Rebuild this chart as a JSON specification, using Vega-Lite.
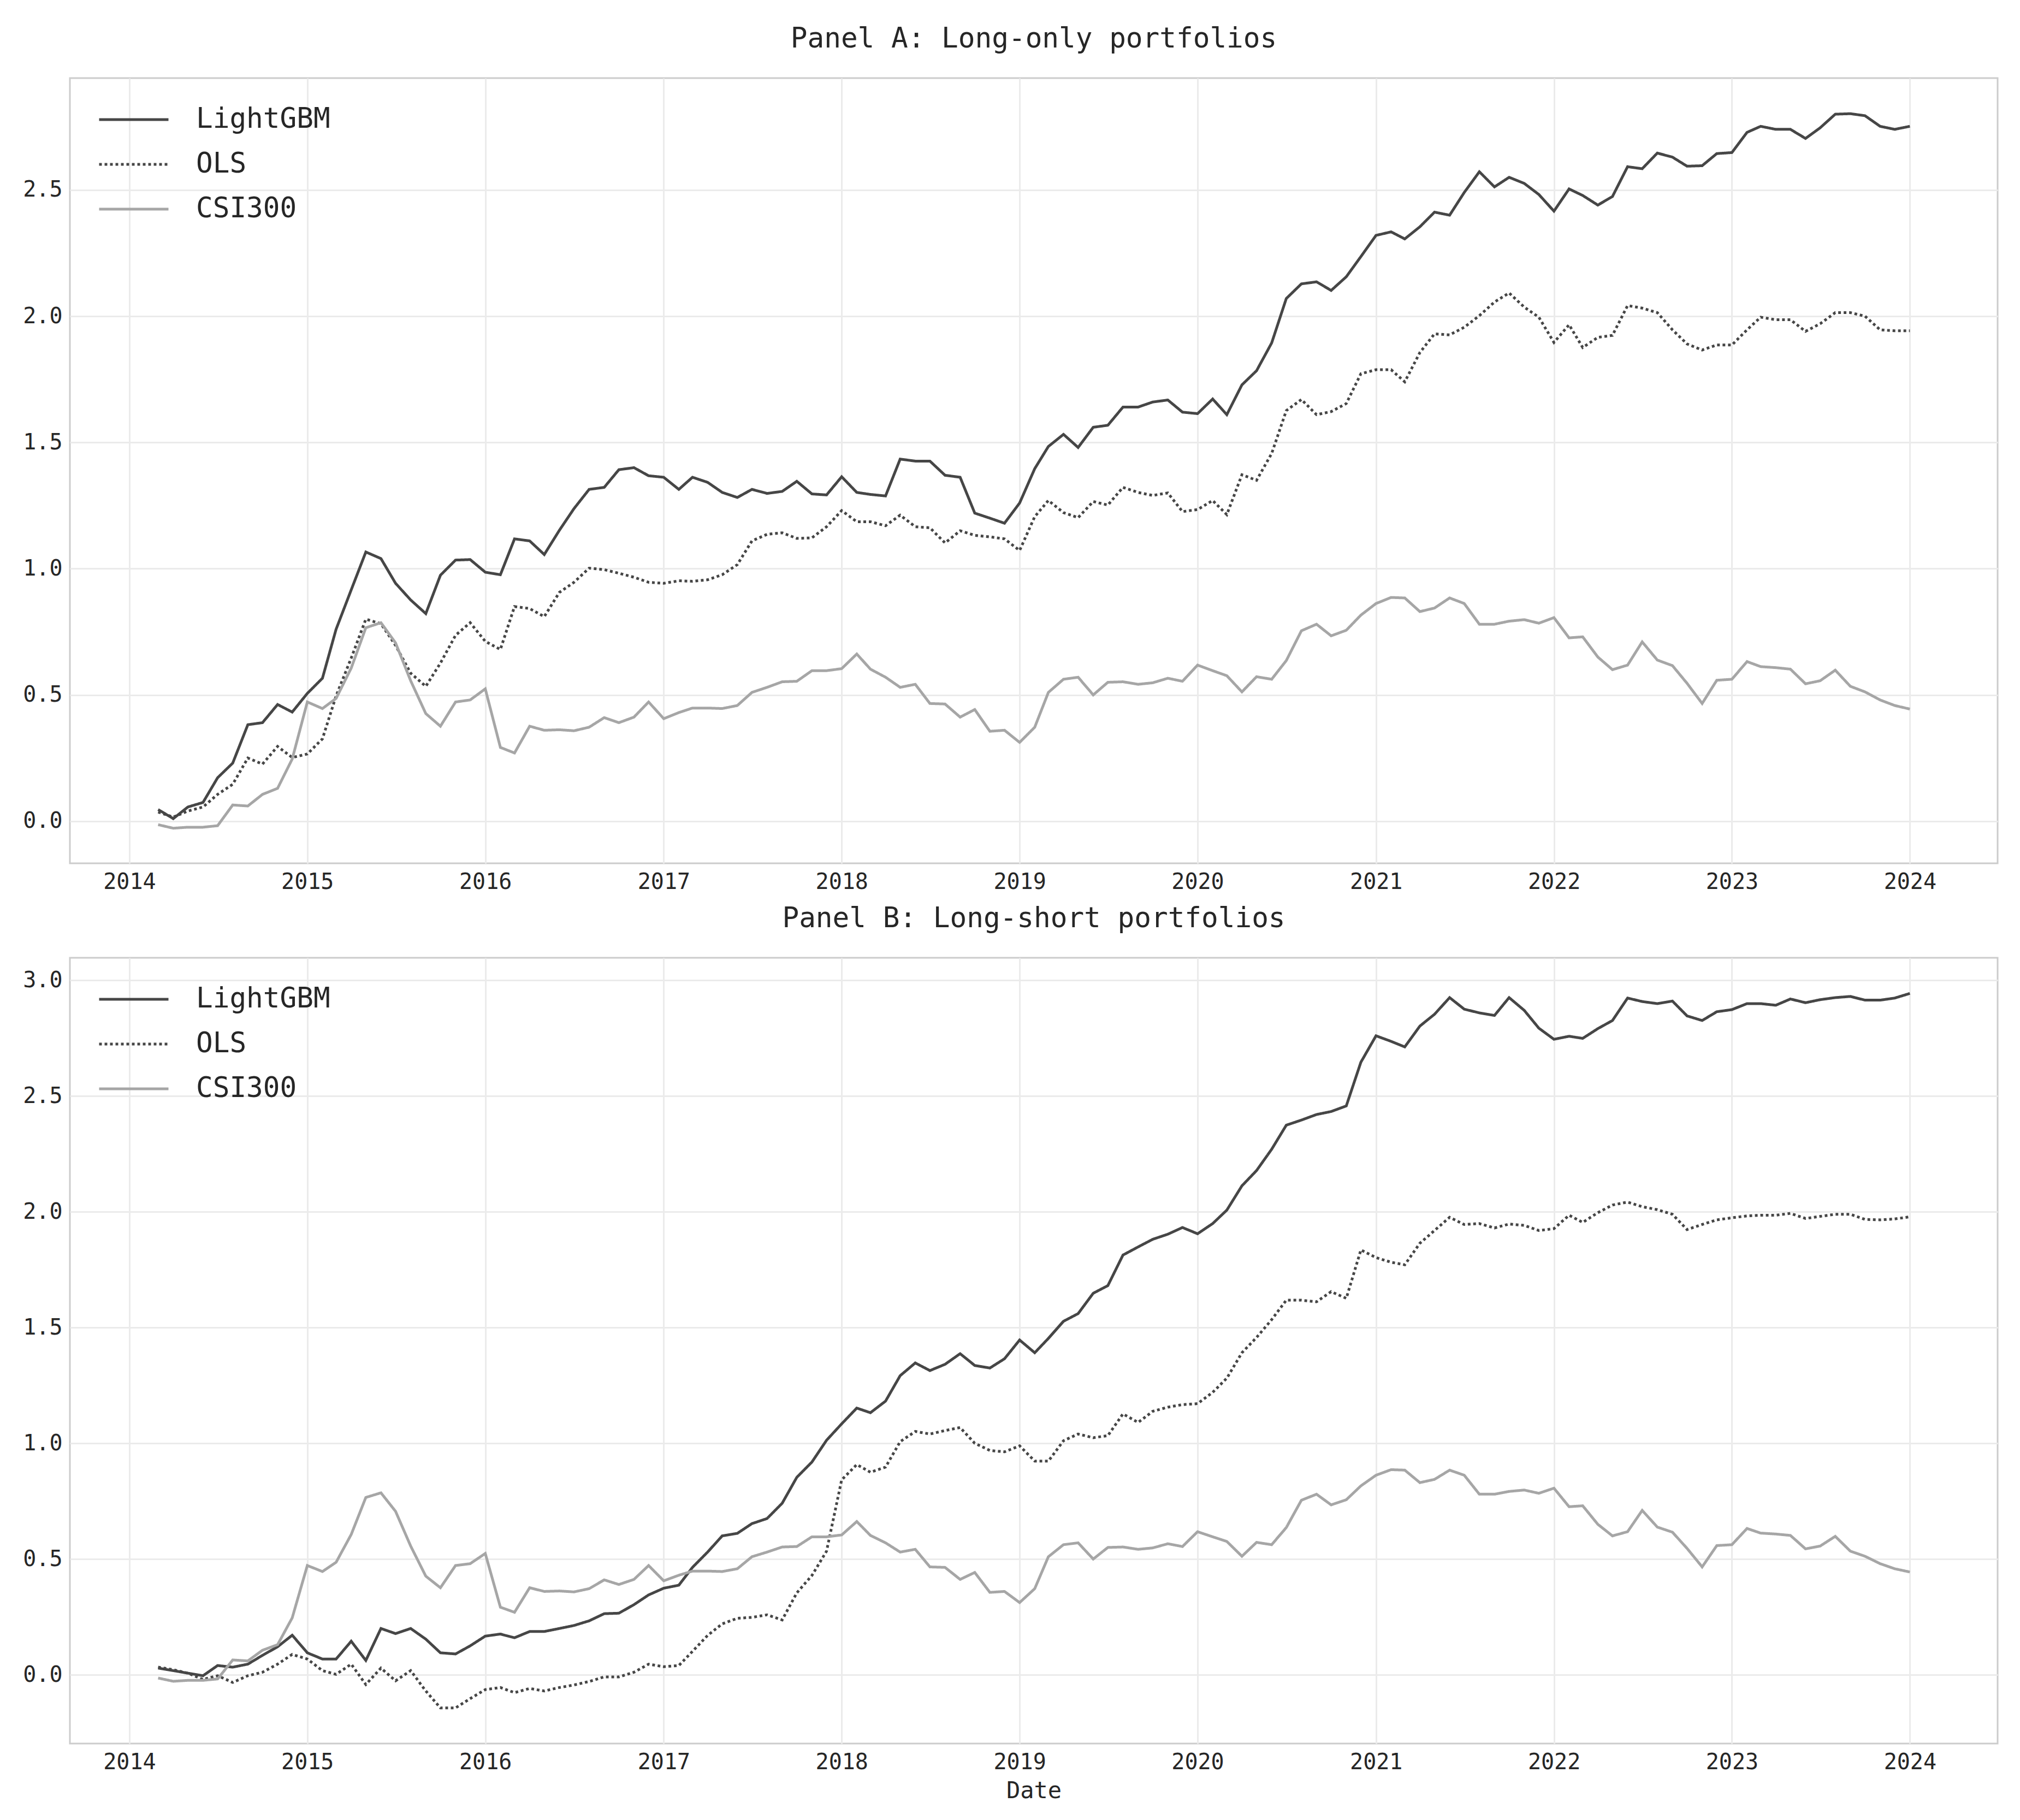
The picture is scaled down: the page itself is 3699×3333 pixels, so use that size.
{
  "$schema": "https://vega.github.io/schema/vega-lite/v6.json",
  "background": "white",
  "padding": {"left": 40, "top": 44, "right": 43, "bottom": 20},
  "spacing": 18,
  "config": {
    "font": "DejaVu Sans Mono",
    "view": {"stroke": "#cccccc", "strokeWidth": 3},
    "axis": {
      "grid": true, "gridColor": "#ebebeb", "gridWidth": 3,
      "domain": false, "ticks": false,
      "labelFont": "DejaVu Sans Mono", "labelFontSize": 40, "labelColor": "#262626", "labelPadding": 14,
      "titleFont": "DejaVu Sans Mono", "titleFontSize": 42, "titleColor": "#262626", "titleFontWeight": "normal", "titlePadding": 12
    },
    "title": {"font": "DejaVu Sans Mono", "fontSize": 51, "fontWeight": "normal", "color": "#262626", "offset": 45, "anchor": "middle"},
    "legend": {
      "orient": "top-left", "offset": 51, "padding": 0, "title": null,
      "symbolType": "stroke", "symbolSize": 16129, "symbolStrokeWidth": 5,
      "labelFont": "DejaVu Sans Mono", "labelFontSize": 51, "labelColor": "#262626", "labelOffset": 48, "labelLimit": 600,
      "clipHeight": 50, "rowPadding": 31
    }
  },
  "datasets": {
    "longOnly": [
      {"date": "2014-03-01", "LightGBM": 0.046, "OLS": 0.036, "CSI300": -0.014},
      {"date": "2014-04-01", "LightGBM": 0.01, "OLS": 0.016, "CSI300": -0.028},
      {"date": "2014-05-01", "LightGBM": 0.056, "OLS": 0.04, "CSI300": -0.024},
      {"date": "2014-06-01", "LightGBM": 0.074, "OLS": 0.056, "CSI300": -0.024},
      {"date": "2014-07-01", "LightGBM": 0.172, "OLS": 0.106, "CSI300": -0.018},
      {"date": "2014-08-01", "LightGBM": 0.23, "OLS": 0.146, "CSI300": 0.064},
      {"date": "2014-09-01", "LightGBM": 0.382, "OLS": 0.25, "CSI300": 0.06},
      {"date": "2014-10-01", "LightGBM": 0.39, "OLS": 0.226, "CSI300": 0.106},
      {"date": "2014-11-01", "LightGBM": 0.462, "OLS": 0.296, "CSI300": 0.13},
      {"date": "2014-12-01", "LightGBM": 0.432, "OLS": 0.252, "CSI300": 0.246},
      {"date": "2015-01-01", "LightGBM": 0.506, "OLS": 0.266, "CSI300": 0.472},
      {"date": "2015-02-01", "LightGBM": 0.566, "OLS": 0.326, "CSI300": 0.446},
      {"date": "2015-03-01", "LightGBM": 0.76, "OLS": 0.496, "CSI300": 0.486},
      {"date": "2015-04-01", "LightGBM": 0.916, "OLS": 0.646, "CSI300": 0.606},
      {"date": "2015-05-01", "LightGBM": 1.066, "OLS": 0.8, "CSI300": 0.766},
      {"date": "2015-06-01", "LightGBM": 1.04, "OLS": 0.782, "CSI300": 0.786},
      {"date": "2015-07-01", "LightGBM": 0.942, "OLS": 0.696, "CSI300": 0.706},
      {"date": "2015-08-01", "LightGBM": 0.876, "OLS": 0.586, "CSI300": 0.556},
      {"date": "2015-09-01", "LightGBM": 0.822, "OLS": 0.534, "CSI300": 0.426},
      {"date": "2015-10-01", "LightGBM": 0.974, "OLS": 0.626, "CSI300": 0.376},
      {"date": "2015-11-01", "LightGBM": 1.034, "OLS": 0.736, "CSI300": 0.472},
      {"date": "2015-12-01", "LightGBM": 1.036, "OLS": 0.786, "CSI300": 0.48},
      {"date": "2016-01-01", "LightGBM": 0.986, "OLS": 0.712, "CSI300": 0.524},
      {"date": "2016-02-01", "LightGBM": 0.976, "OLS": 0.68, "CSI300": 0.292},
      {"date": "2016-03-01", "LightGBM": 1.118, "OLS": 0.85, "CSI300": 0.27},
      {"date": "2016-04-01", "LightGBM": 1.11, "OLS": 0.842, "CSI300": 0.376},
      {"date": "2016-05-01", "LightGBM": 1.056, "OLS": 0.81, "CSI300": 0.36},
      {"date": "2016-06-01", "LightGBM": 1.152, "OLS": 0.906, "CSI300": 0.362},
      {"date": "2016-07-01", "LightGBM": 1.238, "OLS": 0.946, "CSI300": 0.358},
      {"date": "2016-08-01", "LightGBM": 1.314, "OLS": 1.002, "CSI300": 0.372},
      {"date": "2016-09-01", "LightGBM": 1.322, "OLS": 0.996, "CSI300": 0.41},
      {"date": "2016-10-01", "LightGBM": 1.392, "OLS": 0.982, "CSI300": 0.39},
      {"date": "2016-11-01", "LightGBM": 1.4, "OLS": 0.966, "CSI300": 0.412},
      {"date": "2016-12-01", "LightGBM": 1.368, "OLS": 0.946, "CSI300": 0.472},
      {"date": "2017-01-01", "LightGBM": 1.362, "OLS": 0.942, "CSI300": 0.406},
      {"date": "2017-02-01", "LightGBM": 1.314, "OLS": 0.952, "CSI300": 0.43},
      {"date": "2017-03-01", "LightGBM": 1.362, "OLS": 0.95, "CSI300": 0.448},
      {"date": "2017-04-01", "LightGBM": 1.342, "OLS": 0.956, "CSI300": 0.448},
      {"date": "2017-05-01", "LightGBM": 1.302, "OLS": 0.976, "CSI300": 0.446},
      {"date": "2017-06-01", "LightGBM": 1.282, "OLS": 1.016, "CSI300": 0.458},
      {"date": "2017-07-01", "LightGBM": 1.314, "OLS": 1.11, "CSI300": 0.51},
      {"date": "2017-08-01", "LightGBM": 1.298, "OLS": 1.136, "CSI300": 0.53},
      {"date": "2017-09-01", "LightGBM": 1.306, "OLS": 1.142, "CSI300": 0.552},
      {"date": "2017-10-01", "LightGBM": 1.346, "OLS": 1.12, "CSI300": 0.554},
      {"date": "2017-11-01", "LightGBM": 1.296, "OLS": 1.122, "CSI300": 0.596},
      {"date": "2017-12-01", "LightGBM": 1.292, "OLS": 1.166, "CSI300": 0.596},
      {"date": "2018-01-01", "LightGBM": 1.364, "OLS": 1.23, "CSI300": 0.604},
      {"date": "2018-02-01", "LightGBM": 1.302, "OLS": 1.186, "CSI300": 0.662},
      {"date": "2018-03-01", "LightGBM": 1.294, "OLS": 1.186, "CSI300": 0.602},
      {"date": "2018-04-01", "LightGBM": 1.288, "OLS": 1.17, "CSI300": 0.57},
      {"date": "2018-05-01", "LightGBM": 1.434, "OLS": 1.212, "CSI300": 0.53},
      {"date": "2018-06-01", "LightGBM": 1.426, "OLS": 1.166, "CSI300": 0.542},
      {"date": "2018-07-01", "LightGBM": 1.426, "OLS": 1.162, "CSI300": 0.466},
      {"date": "2018-08-01", "LightGBM": 1.37, "OLS": 1.102, "CSI300": 0.464},
      {"date": "2018-09-01", "LightGBM": 1.362, "OLS": 1.15, "CSI300": 0.412},
      {"date": "2018-10-01", "LightGBM": 1.22, "OLS": 1.132, "CSI300": 0.442},
      {"date": "2018-11-01", "LightGBM": 1.2, "OLS": 1.126, "CSI300": 0.356},
      {"date": "2018-12-01", "LightGBM": 1.18, "OLS": 1.118, "CSI300": 0.36},
      {"date": "2019-01-01", "LightGBM": 1.26, "OLS": 1.072, "CSI300": 0.312},
      {"date": "2019-02-01", "LightGBM": 1.396, "OLS": 1.206, "CSI300": 0.372},
      {"date": "2019-03-01", "LightGBM": 1.484, "OLS": 1.27, "CSI300": 0.51},
      {"date": "2019-04-01", "LightGBM": 1.532, "OLS": 1.222, "CSI300": 0.562},
      {"date": "2019-05-01", "LightGBM": 1.48, "OLS": 1.202, "CSI300": 0.57},
      {"date": "2019-06-01", "LightGBM": 1.56, "OLS": 1.266, "CSI300": 0.5},
      {"date": "2019-07-01", "LightGBM": 1.568, "OLS": 1.252, "CSI300": 0.55},
      {"date": "2019-08-01", "LightGBM": 1.64, "OLS": 1.322, "CSI300": 0.552},
      {"date": "2019-09-01", "LightGBM": 1.64, "OLS": 1.302, "CSI300": 0.542},
      {"date": "2019-10-01", "LightGBM": 1.66, "OLS": 1.29, "CSI300": 0.548},
      {"date": "2019-11-01", "LightGBM": 1.668, "OLS": 1.3, "CSI300": 0.566},
      {"date": "2019-12-01", "LightGBM": 1.62, "OLS": 1.226, "CSI300": 0.554},
      {"date": "2020-01-01", "LightGBM": 1.614, "OLS": 1.234, "CSI300": 0.618},
      {"date": "2020-02-01", "LightGBM": 1.672, "OLS": 1.27, "CSI300": 0.596},
      {"date": "2020-03-01", "LightGBM": 1.61, "OLS": 1.214, "CSI300": 0.576},
      {"date": "2020-04-01", "LightGBM": 1.728, "OLS": 1.372, "CSI300": 0.512},
      {"date": "2020-05-01", "LightGBM": 1.784, "OLS": 1.35, "CSI300": 0.572},
      {"date": "2020-06-01", "LightGBM": 1.894, "OLS": 1.456, "CSI300": 0.562},
      {"date": "2020-07-01", "LightGBM": 2.07, "OLS": 1.626, "CSI300": 0.636},
      {"date": "2020-08-01", "LightGBM": 2.128, "OLS": 1.67, "CSI300": 0.754},
      {"date": "2020-09-01", "LightGBM": 2.136, "OLS": 1.61, "CSI300": 0.78},
      {"date": "2020-10-01", "LightGBM": 2.102, "OLS": 1.622, "CSI300": 0.734},
      {"date": "2020-11-01", "LightGBM": 2.156, "OLS": 1.654, "CSI300": 0.756},
      {"date": "2020-12-01", "LightGBM": 2.236, "OLS": 1.772, "CSI300": 0.816},
      {"date": "2021-01-01", "LightGBM": 2.32, "OLS": 1.788, "CSI300": 0.862},
      {"date": "2021-02-01", "LightGBM": 2.334, "OLS": 1.788, "CSI300": 0.886},
      {"date": "2021-03-01", "LightGBM": 2.306, "OLS": 1.74, "CSI300": 0.884},
      {"date": "2021-04-01", "LightGBM": 2.354, "OLS": 1.856, "CSI300": 0.83},
      {"date": "2021-05-01", "LightGBM": 2.412, "OLS": 1.93, "CSI300": 0.844},
      {"date": "2021-06-01", "LightGBM": 2.4, "OLS": 1.926, "CSI300": 0.884},
      {"date": "2021-07-01", "LightGBM": 2.49, "OLS": 1.956, "CSI300": 0.862},
      {"date": "2021-08-01", "LightGBM": 2.572, "OLS": 2.002, "CSI300": 0.78},
      {"date": "2021-09-01", "LightGBM": 2.512, "OLS": 2.056, "CSI300": 0.78},
      {"date": "2021-10-01", "LightGBM": 2.55, "OLS": 2.092, "CSI300": 0.792},
      {"date": "2021-11-01", "LightGBM": 2.526, "OLS": 2.036, "CSI300": 0.798},
      {"date": "2021-12-01", "LightGBM": 2.482, "OLS": 1.996, "CSI300": 0.784},
      {"date": "2022-01-01", "LightGBM": 2.416, "OLS": 1.896, "CSI300": 0.806},
      {"date": "2022-02-01", "LightGBM": 2.504, "OLS": 1.966, "CSI300": 0.726},
      {"date": "2022-03-01", "LightGBM": 2.478, "OLS": 1.876, "CSI300": 0.73},
      {"date": "2022-04-01", "LightGBM": 2.44, "OLS": 1.916, "CSI300": 0.65},
      {"date": "2022-05-01", "LightGBM": 2.474, "OLS": 1.924, "CSI300": 0.6},
      {"date": "2022-06-01", "LightGBM": 2.592, "OLS": 2.042, "CSI300": 0.618},
      {"date": "2022-07-01", "LightGBM": 2.584, "OLS": 2.032, "CSI300": 0.71},
      {"date": "2022-08-01", "LightGBM": 2.646, "OLS": 2.014, "CSI300": 0.638},
      {"date": "2022-09-01", "LightGBM": 2.63, "OLS": 1.946, "CSI300": 0.616},
      {"date": "2022-10-01", "LightGBM": 2.594, "OLS": 1.89, "CSI300": 0.546},
      {"date": "2022-11-01", "LightGBM": 2.596, "OLS": 1.866, "CSI300": 0.466},
      {"date": "2022-12-01", "LightGBM": 2.644, "OLS": 1.886, "CSI300": 0.558},
      {"date": "2023-01-01", "LightGBM": 2.648, "OLS": 1.886, "CSI300": 0.562},
      {"date": "2023-02-01", "LightGBM": 2.728, "OLS": 1.946, "CSI300": 0.632},
      {"date": "2023-03-01", "LightGBM": 2.752, "OLS": 1.996, "CSI300": 0.612},
      {"date": "2023-04-01", "LightGBM": 2.74, "OLS": 1.986, "CSI300": 0.608},
      {"date": "2023-05-01", "LightGBM": 2.74, "OLS": 1.986, "CSI300": 0.602},
      {"date": "2023-06-01", "LightGBM": 2.704, "OLS": 1.94, "CSI300": 0.544},
      {"date": "2023-07-01", "LightGBM": 2.746, "OLS": 1.97, "CSI300": 0.556},
      {"date": "2023-08-01", "LightGBM": 2.8, "OLS": 2.014, "CSI300": 0.598},
      {"date": "2023-09-01", "LightGBM": 2.802, "OLS": 2.014, "CSI300": 0.534},
      {"date": "2023-10-01", "LightGBM": 2.794, "OLS": 2.0, "CSI300": 0.512},
      {"date": "2023-11-01", "LightGBM": 2.752, "OLS": 1.946, "CSI300": 0.48},
      {"date": "2023-12-01", "LightGBM": 2.74, "OLS": 1.942, "CSI300": 0.458},
      {"date": "2024-01-01", "LightGBM": 2.752, "OLS": 1.942, "CSI300": 0.444}
    ],
    "longShort": [
      {"date": "2014-03-01", "LightGBM": 0.029, "OLS": 0.033, "CSI300": -0.014},
      {"date": "2014-04-01", "LightGBM": 0.018, "OLS": 0.022, "CSI300": -0.028},
      {"date": "2014-05-01", "LightGBM": 0.007, "OLS": 0.007, "CSI300": -0.024},
      {"date": "2014-06-01", "LightGBM": -0.004, "OLS": -0.02, "CSI300": -0.024},
      {"date": "2014-07-01", "LightGBM": 0.04, "OLS": -0.004, "CSI300": -0.018},
      {"date": "2014-08-01", "LightGBM": 0.033, "OLS": -0.033, "CSI300": 0.064},
      {"date": "2014-09-01", "LightGBM": 0.046, "OLS": -0.004, "CSI300": 0.06},
      {"date": "2014-10-01", "LightGBM": 0.084, "OLS": 0.011, "CSI300": 0.106},
      {"date": "2014-11-01", "LightGBM": 0.121, "OLS": 0.046, "CSI300": 0.13},
      {"date": "2014-12-01", "LightGBM": 0.171, "OLS": 0.088, "CSI300": 0.246},
      {"date": "2015-01-01", "LightGBM": 0.095, "OLS": 0.068, "CSI300": 0.472},
      {"date": "2015-02-01", "LightGBM": 0.068, "OLS": 0.018, "CSI300": 0.446},
      {"date": "2015-03-01", "LightGBM": 0.068, "OLS": 0.002, "CSI300": 0.486},
      {"date": "2015-04-01", "LightGBM": 0.145, "OLS": 0.046, "CSI300": 0.606},
      {"date": "2015-05-01", "LightGBM": 0.062, "OLS": -0.042, "CSI300": 0.766},
      {"date": "2015-06-01", "LightGBM": 0.2, "OLS": 0.029, "CSI300": 0.786},
      {"date": "2015-07-01", "LightGBM": 0.178, "OLS": -0.026, "CSI300": 0.706},
      {"date": "2015-08-01", "LightGBM": 0.2, "OLS": 0.018, "CSI300": 0.556},
      {"date": "2015-09-01", "LightGBM": 0.154, "OLS": -0.07, "CSI300": 0.426},
      {"date": "2015-10-01", "LightGBM": 0.095, "OLS": -0.143, "CSI300": 0.376},
      {"date": "2015-11-01", "LightGBM": 0.09, "OLS": -0.143, "CSI300": 0.472},
      {"date": "2015-12-01", "LightGBM": 0.125, "OLS": -0.103, "CSI300": 0.48},
      {"date": "2016-01-01", "LightGBM": 0.167, "OLS": -0.064, "CSI300": 0.524},
      {"date": "2016-02-01", "LightGBM": 0.176, "OLS": -0.055, "CSI300": 0.292},
      {"date": "2016-03-01", "LightGBM": 0.16, "OLS": -0.077, "CSI300": 0.27},
      {"date": "2016-04-01", "LightGBM": 0.187, "OLS": -0.059, "CSI300": 0.376},
      {"date": "2016-05-01", "LightGBM": 0.187, "OLS": -0.07, "CSI300": 0.36},
      {"date": "2016-06-01", "LightGBM": 0.2, "OLS": -0.055, "CSI300": 0.362},
      {"date": "2016-07-01", "LightGBM": 0.213, "OLS": -0.044, "CSI300": 0.358},
      {"date": "2016-08-01", "LightGBM": 0.233, "OLS": -0.029, "CSI300": 0.372},
      {"date": "2016-09-01", "LightGBM": 0.264, "OLS": -0.009, "CSI300": 0.41},
      {"date": "2016-10-01", "LightGBM": 0.266, "OLS": -0.009, "CSI300": 0.39},
      {"date": "2016-11-01", "LightGBM": 0.303, "OLS": 0.011, "CSI300": 0.412},
      {"date": "2016-12-01", "LightGBM": 0.345, "OLS": 0.046, "CSI300": 0.472},
      {"date": "2017-01-01", "LightGBM": 0.374, "OLS": 0.035, "CSI300": 0.406},
      {"date": "2017-02-01", "LightGBM": 0.387, "OLS": 0.04, "CSI300": 0.43},
      {"date": "2017-03-01", "LightGBM": 0.464, "OLS": 0.101, "CSI300": 0.448},
      {"date": "2017-04-01", "LightGBM": 0.53, "OLS": 0.17, "CSI300": 0.448},
      {"date": "2017-05-01", "LightGBM": 0.6, "OLS": 0.22, "CSI300": 0.446},
      {"date": "2017-06-01", "LightGBM": 0.611, "OLS": 0.244, "CSI300": 0.458},
      {"date": "2017-07-01", "LightGBM": 0.653, "OLS": 0.248, "CSI300": 0.51},
      {"date": "2017-08-01", "LightGBM": 0.675, "OLS": 0.259, "CSI300": 0.53},
      {"date": "2017-09-01", "LightGBM": 0.741, "OLS": 0.237, "CSI300": 0.552},
      {"date": "2017-10-01", "LightGBM": 0.853, "OLS": 0.354, "CSI300": 0.554},
      {"date": "2017-11-01", "LightGBM": 0.919, "OLS": 0.429, "CSI300": 0.596},
      {"date": "2017-12-01", "LightGBM": 1.013, "OLS": 0.534, "CSI300": 0.596},
      {"date": "2018-01-01", "LightGBM": 1.084, "OLS": 0.842, "CSI300": 0.604},
      {"date": "2018-02-01", "LightGBM": 1.152, "OLS": 0.908, "CSI300": 0.662},
      {"date": "2018-03-01", "LightGBM": 1.132, "OLS": 0.875, "CSI300": 0.602},
      {"date": "2018-04-01", "LightGBM": 1.182, "OLS": 0.897, "CSI300": 0.57},
      {"date": "2018-05-01", "LightGBM": 1.292, "OLS": 1.007, "CSI300": 0.53},
      {"date": "2018-06-01", "LightGBM": 1.347, "OLS": 1.051, "CSI300": 0.542},
      {"date": "2018-07-01", "LightGBM": 1.314, "OLS": 1.04, "CSI300": 0.466},
      {"date": "2018-08-01", "LightGBM": 1.341, "OLS": 1.055, "CSI300": 0.464},
      {"date": "2018-09-01", "LightGBM": 1.387, "OLS": 1.068, "CSI300": 0.412},
      {"date": "2018-10-01", "LightGBM": 1.336, "OLS": 1.0, "CSI300": 0.442},
      {"date": "2018-11-01", "LightGBM": 1.325, "OLS": 0.969, "CSI300": 0.356},
      {"date": "2018-12-01", "LightGBM": 1.365, "OLS": 0.963, "CSI300": 0.36},
      {"date": "2019-01-01", "LightGBM": 1.446, "OLS": 0.989, "CSI300": 0.312},
      {"date": "2019-02-01", "LightGBM": 1.391, "OLS": 0.923, "CSI300": 0.372},
      {"date": "2019-03-01", "LightGBM": 1.453, "OLS": 0.923, "CSI300": 0.51},
      {"date": "2019-04-01", "LightGBM": 1.527, "OLS": 1.011, "CSI300": 0.562},
      {"date": "2019-05-01", "LightGBM": 1.56, "OLS": 1.04, "CSI300": 0.57},
      {"date": "2019-06-01", "LightGBM": 1.648, "OLS": 1.024, "CSI300": 0.5},
      {"date": "2019-07-01", "LightGBM": 1.681, "OLS": 1.033, "CSI300": 0.55},
      {"date": "2019-08-01", "LightGBM": 1.813, "OLS": 1.127, "CSI300": 0.552},
      {"date": "2019-09-01", "LightGBM": 1.848, "OLS": 1.09, "CSI300": 0.542},
      {"date": "2019-10-01", "LightGBM": 1.881, "OLS": 1.138, "CSI300": 0.548},
      {"date": "2019-11-01", "LightGBM": 1.903, "OLS": 1.156, "CSI300": 0.566},
      {"date": "2019-12-01", "LightGBM": 1.932, "OLS": 1.167, "CSI300": 0.554},
      {"date": "2020-01-01", "LightGBM": 1.905, "OLS": 1.171, "CSI300": 0.618},
      {"date": "2020-02-01", "LightGBM": 1.949, "OLS": 1.22, "CSI300": 0.596},
      {"date": "2020-03-01", "LightGBM": 2.007, "OLS": 1.281, "CSI300": 0.576},
      {"date": "2020-04-01", "LightGBM": 2.112, "OLS": 1.391, "CSI300": 0.512},
      {"date": "2020-05-01", "LightGBM": 2.178, "OLS": 1.457, "CSI300": 0.572},
      {"date": "2020-06-01", "LightGBM": 2.27, "OLS": 1.534, "CSI300": 0.562},
      {"date": "2020-07-01", "LightGBM": 2.374, "OLS": 1.618, "CSI300": 0.636},
      {"date": "2020-08-01", "LightGBM": 2.396, "OLS": 1.618, "CSI300": 0.754},
      {"date": "2020-09-01", "LightGBM": 2.42, "OLS": 1.611, "CSI300": 0.78},
      {"date": "2020-10-01", "LightGBM": 2.433, "OLS": 1.655, "CSI300": 0.734},
      {"date": "2020-11-01", "LightGBM": 2.457, "OLS": 1.626, "CSI300": 0.756},
      {"date": "2020-12-01", "LightGBM": 2.646, "OLS": 1.835, "CSI300": 0.816},
      {"date": "2021-01-01", "LightGBM": 2.76, "OLS": 1.802, "CSI300": 0.862},
      {"date": "2021-02-01", "LightGBM": 2.736, "OLS": 1.782, "CSI300": 0.886},
      {"date": "2021-03-01", "LightGBM": 2.712, "OLS": 1.771, "CSI300": 0.884},
      {"date": "2021-04-01", "LightGBM": 2.802, "OLS": 1.864, "CSI300": 0.83},
      {"date": "2021-05-01", "LightGBM": 2.853, "OLS": 1.919, "CSI300": 0.844},
      {"date": "2021-06-01", "LightGBM": 2.925, "OLS": 1.976, "CSI300": 0.884},
      {"date": "2021-07-01", "LightGBM": 2.875, "OLS": 1.945, "CSI300": 0.862},
      {"date": "2021-08-01", "LightGBM": 2.859, "OLS": 1.949, "CSI300": 0.78},
      {"date": "2021-09-01", "LightGBM": 2.848, "OLS": 1.93, "CSI300": 0.78},
      {"date": "2021-10-01", "LightGBM": 2.925, "OLS": 1.947, "CSI300": 0.792},
      {"date": "2021-11-01", "LightGBM": 2.87, "OLS": 1.941, "CSI300": 0.798},
      {"date": "2021-12-01", "LightGBM": 2.793, "OLS": 1.919, "CSI300": 0.784},
      {"date": "2022-01-01", "LightGBM": 2.745, "OLS": 1.927, "CSI300": 0.806},
      {"date": "2022-02-01", "LightGBM": 2.758, "OLS": 1.985, "CSI300": 0.726},
      {"date": "2022-03-01", "LightGBM": 2.749, "OLS": 1.954, "CSI300": 0.73},
      {"date": "2022-04-01", "LightGBM": 2.791, "OLS": 1.996, "CSI300": 0.65},
      {"date": "2022-05-01", "LightGBM": 2.826, "OLS": 2.029, "CSI300": 0.6},
      {"date": "2022-06-01", "LightGBM": 2.923, "OLS": 2.042, "CSI300": 0.618},
      {"date": "2022-07-01", "LightGBM": 2.908, "OLS": 2.022, "CSI300": 0.71},
      {"date": "2022-08-01", "LightGBM": 2.899, "OLS": 2.009, "CSI300": 0.638},
      {"date": "2022-09-01", "LightGBM": 2.91, "OLS": 1.989, "CSI300": 0.616},
      {"date": "2022-10-01", "LightGBM": 2.846, "OLS": 1.923, "CSI300": 0.546},
      {"date": "2022-11-01", "LightGBM": 2.826, "OLS": 1.945, "CSI300": 0.466},
      {"date": "2022-12-01", "LightGBM": 2.864, "OLS": 1.965, "CSI300": 0.558},
      {"date": "2023-01-01", "LightGBM": 2.873, "OLS": 1.974, "CSI300": 0.562},
      {"date": "2023-02-01", "LightGBM": 2.899, "OLS": 1.982, "CSI300": 0.632},
      {"date": "2023-03-01", "LightGBM": 2.899, "OLS": 1.985, "CSI300": 0.612},
      {"date": "2023-04-01", "LightGBM": 2.892, "OLS": 1.985, "CSI300": 0.608},
      {"date": "2023-05-01", "LightGBM": 2.919, "OLS": 1.993, "CSI300": 0.602},
      {"date": "2023-06-01", "LightGBM": 2.903, "OLS": 1.971, "CSI300": 0.544},
      {"date": "2023-07-01", "LightGBM": 2.916, "OLS": 1.98, "CSI300": 0.556},
      {"date": "2023-08-01", "LightGBM": 2.925, "OLS": 1.989, "CSI300": 0.598},
      {"date": "2023-09-01", "LightGBM": 2.93, "OLS": 1.989, "CSI300": 0.534},
      {"date": "2023-10-01", "LightGBM": 2.914, "OLS": 1.967, "CSI300": 0.512},
      {"date": "2023-11-01", "LightGBM": 2.914, "OLS": 1.965, "CSI300": 0.48},
      {"date": "2023-12-01", "LightGBM": 2.923, "OLS": 1.969, "CSI300": 0.458},
      {"date": "2024-01-01", "LightGBM": 2.943, "OLS": 1.978, "CSI300": 0.444}
    ]
  },
  "vconcat": [
    {
      "title": "Panel A: Long-only portfolios",
      "width": 3530,
      "height": 1438,
      "data": {"name": "longOnly"},
      "transform": [{"fold": ["LightGBM", "OLS", "CSI300"], "as": ["series", "value"]}],
      "mark": {"type": "line", "strokeWidth": 5, "strokeCap": "butt"},
      "encoding": {
        "x": {
          "field": "date", "type": "temporal",
          "scale": {"domain": [{"year": 2013, "month": 9, "date": 1}, {"year": 2024, "month": 6, "date": 29}]},
          "axis": {"title": null, "format": "%Y", "tickCount": {"interval": "year", "step": 1}, "labelAngle": 0}
        },
        "y": {
          "field": "value", "type": "quantitative",
          "scale": {"domain": [-0.167, 2.943], "nice": false, "zero": false},
          "axis": {"title": null, "format": ".1f", "values": [0, 0.5, 1, 1.5, 2, 2.5], "minExtent": 86, "maxExtent": 86}
        },
        "color": {
          "field": "series", "type": "nominal",
          "scale": {"domain": ["LightGBM", "OLS", "CSI300"], "range": ["#464646", "#464646", "#a6a6a6"]}
        },
        "strokeDash": {
          "field": "series", "type": "nominal",
          "scale": {"domain": ["LightGBM", "OLS", "CSI300"], "range": [[1, 0], [5, 5], [1, 0]]}
        }
      }
    },
    {
      "title": "Panel B: Long-short portfolios",
      "width": 3530,
      "height": 1439,
      "data": {"name": "longShort"},
      "transform": [{"fold": ["LightGBM", "OLS", "CSI300"], "as": ["series", "value"]}],
      "mark": {"type": "line", "strokeWidth": 5, "strokeCap": "butt"},
      "encoding": {
        "x": {
          "field": "date", "type": "temporal",
          "scale": {"domain": [{"year": 2013, "month": 9, "date": 1}, {"year": 2024, "month": 6, "date": 29}]},
          "axis": {"title": "Date", "format": "%Y", "tickCount": {"interval": "year", "step": 1}, "labelAngle": 0}
        },
        "y": {
          "field": "value", "type": "quantitative",
          "scale": {"domain": [-0.297, 3.097], "nice": false, "zero": false},
          "axis": {"title": null, "format": ".1f", "values": [0, 0.5, 1, 1.5, 2, 2.5, 3], "minExtent": 86, "maxExtent": 86}
        },
        "color": {
          "field": "series", "type": "nominal",
          "scale": {"domain": ["LightGBM", "OLS", "CSI300"], "range": ["#464646", "#464646", "#a6a6a6"]}
        },
        "strokeDash": {
          "field": "series", "type": "nominal",
          "scale": {"domain": ["LightGBM", "OLS", "CSI300"], "range": [[1, 0], [5, 5], [1, 0]]}
        }
      }
    }
  ],
  "resolve": {"scale": {"y": "independent", "color": "independent", "strokeDash": "independent"}, "legend": {"color": "independent", "strokeDash": "independent"}}
}
